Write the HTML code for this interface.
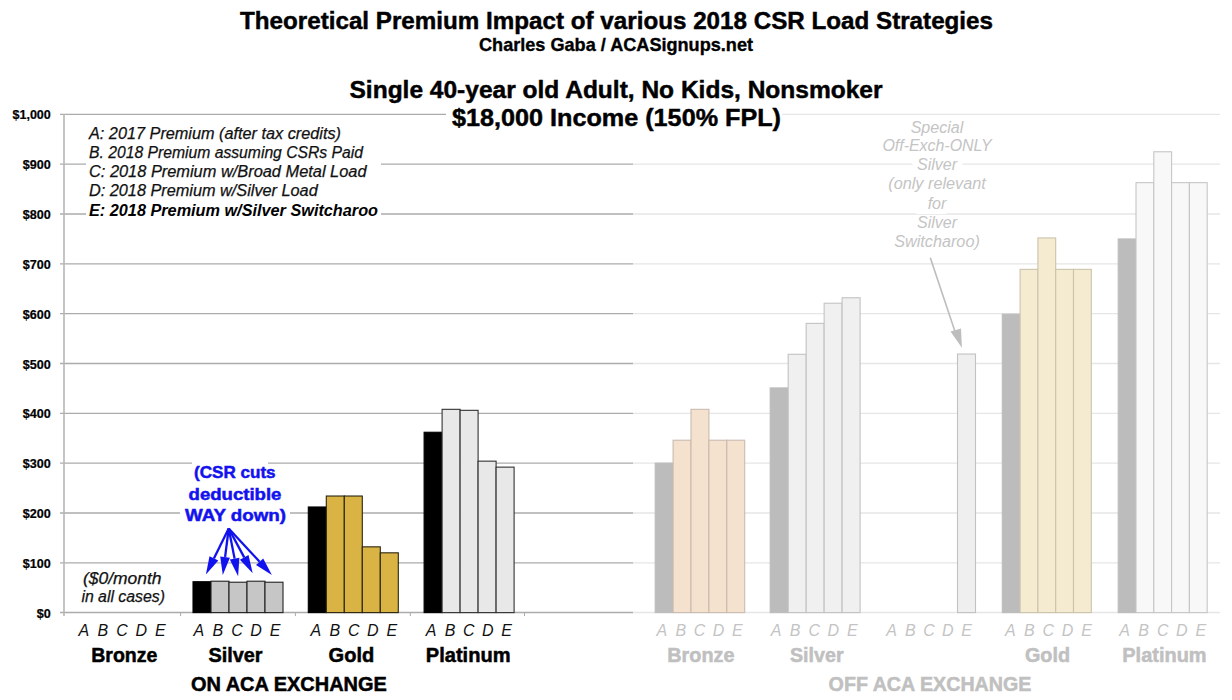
<!DOCTYPE html>
<html><head><meta charset="utf-8"><title>Theoretical Premium Impact of various 2018 CSR Load Strategies</title>
<style>
html,body{margin:0;padding:0;background:#fff;}
svg{display:block;}
text{font-family:"Liberation Sans",sans-serif;}
.yl{font-size:12px;font-weight:bold;text-anchor:end;fill:#000;stroke:#000;stroke-width:0.2;}
.t1{font-size:24px;font-weight:bold;fill:#000;stroke:#000;stroke-width:0.45;}
.t2{font-size:18.2px;font-weight:bold;fill:#000;stroke:#000;stroke-width:0.35;}
.t3{font-size:23.8px;font-weight:bold;fill:#000;stroke:#000;stroke-width:0.45;}
.lg{font-size:16px;font-style:italic;fill:#111;stroke:#111;stroke-width:0.25;}
.lgb{font-size:16px;font-style:italic;font-weight:bold;fill:#000;}
.sp{font-size:16px;font-style:italic;fill:#c4c4c4;}
.bl{font-size:16.5px;font-weight:bold;fill:#1212ee;stroke:#1212ee;stroke-width:0.5;}
.xl{font-size:16px;font-style:italic;}
.cat{font-size:20px;font-weight:bold;stroke-width:0.5;}
</style></head>
<body>
<svg width="1232" height="700" viewBox="0 0 1232 700">
<rect width="1232" height="700" fill="#fff"/>
<line x1="60" y1="562.8" x2="633" y2="562.8" stroke="#ababab" stroke-width="1.3"/>
<line x1="633" y1="562.8" x2="1220" y2="562.8" stroke="#e6e6e6" stroke-width="1.3"/>
<line x1="60" y1="513.0" x2="633" y2="513.0" stroke="#ababab" stroke-width="1.3"/>
<line x1="633" y1="513.0" x2="1220" y2="513.0" stroke="#e6e6e6" stroke-width="1.3"/>
<line x1="60" y1="463.1" x2="633" y2="463.1" stroke="#ababab" stroke-width="1.3"/>
<line x1="633" y1="463.1" x2="1220" y2="463.1" stroke="#e6e6e6" stroke-width="1.3"/>
<line x1="60" y1="413.3" x2="633" y2="413.3" stroke="#ababab" stroke-width="1.3"/>
<line x1="633" y1="413.3" x2="1220" y2="413.3" stroke="#e6e6e6" stroke-width="1.3"/>
<line x1="60" y1="363.5" x2="633" y2="363.5" stroke="#ababab" stroke-width="1.3"/>
<line x1="633" y1="363.5" x2="1220" y2="363.5" stroke="#e6e6e6" stroke-width="1.3"/>
<line x1="60" y1="313.7" x2="633" y2="313.7" stroke="#ababab" stroke-width="1.3"/>
<line x1="633" y1="313.7" x2="1220" y2="313.7" stroke="#e6e6e6" stroke-width="1.3"/>
<line x1="60" y1="263.9" x2="633" y2="263.9" stroke="#ababab" stroke-width="1.3"/>
<line x1="633" y1="263.9" x2="1220" y2="263.9" stroke="#e6e6e6" stroke-width="1.3"/>
<line x1="60" y1="214.0" x2="633" y2="214.0" stroke="#ababab" stroke-width="1.3"/>
<line x1="633" y1="214.0" x2="1220" y2="214.0" stroke="#e6e6e6" stroke-width="1.3"/>
<line x1="60" y1="164.2" x2="633" y2="164.2" stroke="#ababab" stroke-width="1.3"/>
<line x1="633" y1="164.2" x2="1220" y2="164.2" stroke="#e6e6e6" stroke-width="1.3"/>
<line x1="60" y1="114.4" x2="633" y2="114.4" stroke="#ababab" stroke-width="1.3"/>
<line x1="633" y1="114.4" x2="1220" y2="114.4" stroke="#e6e6e6" stroke-width="1.3"/>
<line x1="60" y1="612.6" x2="633" y2="612.6" stroke="#ababab" stroke-width="1.5"/>
<line x1="633" y1="612.6" x2="1220" y2="612.6" stroke="#e6e6e6" stroke-width="1.5"/>
<line x1="64" y1="114" x2="64" y2="616" stroke="#b6b6b6" stroke-width="1.6"/>
<line x1="180.6" y1="612.6" x2="180.6" y2="616.1" stroke="#ababab" stroke-width="1"/>
<line x1="295.4" y1="612.6" x2="295.4" y2="616.1" stroke="#ababab" stroke-width="1"/>
<line x1="410.3" y1="612.6" x2="410.3" y2="616.1" stroke="#ababab" stroke-width="1"/>
<line x1="524.5" y1="612.6" x2="524.5" y2="616.1" stroke="#ababab" stroke-width="1"/>
<text x="50.8" y="617.6" class="yl" textLength="14" lengthAdjust="spacingAndGlyphs">$0</text>
<text x="50.8" y="567.8" class="yl" textLength="28" lengthAdjust="spacingAndGlyphs">$100</text>
<text x="50.8" y="518.0" class="yl" textLength="28" lengthAdjust="spacingAndGlyphs">$200</text>
<text x="50.8" y="468.1" class="yl" textLength="28" lengthAdjust="spacingAndGlyphs">$300</text>
<text x="50.8" y="418.3" class="yl" textLength="28" lengthAdjust="spacingAndGlyphs">$400</text>
<text x="50.8" y="368.5" class="yl" textLength="28" lengthAdjust="spacingAndGlyphs">$500</text>
<text x="50.8" y="318.7" class="yl" textLength="28" lengthAdjust="spacingAndGlyphs">$600</text>
<text x="50.8" y="268.9" class="yl" textLength="28" lengthAdjust="spacingAndGlyphs">$700</text>
<text x="50.8" y="219.0" class="yl" textLength="28" lengthAdjust="spacingAndGlyphs">$800</text>
<text x="50.8" y="169.2" class="yl" textLength="28" lengthAdjust="spacingAndGlyphs">$900</text>
<text x="50.8" y="119.4" class="yl" textLength="38.3" lengthAdjust="spacingAndGlyphs">$1,000</text>
<rect x="446" y="104" width="336" height="24" fill="#fff"/>
<rect x="86" y="124" width="295" height="97" fill="#fff"/>
<rect x="192" y="458" width="76" height="22" fill="#fff"/>
<rect x="180" y="481" width="110" height="45" fill="#fff"/>
<rect x="912.5" y="158" width="50" height="16" fill="#fff"/>
<rect x="916.5" y="198" width="30" height="16" fill="#fff"/>
<rect x="80" y="568" width="88" height="38" fill="#fff"/>
<rect x="193.00" y="581.71" width="18.00" height="30.89" fill="#000" stroke="#000" stroke-width="1.1"/>
<rect x="211.00" y="581.21" width="18.00" height="31.39" fill="#c6c6c6" stroke="#222" stroke-width="1.1"/>
<rect x="229.00" y="582.21" width="18.00" height="30.39" fill="#c6c6c6" stroke="#222" stroke-width="1.1"/>
<rect x="247.00" y="581.21" width="18.00" height="31.39" fill="#c6c6c6" stroke="#222" stroke-width="1.1"/>
<rect x="265.00" y="582.21" width="18.00" height="30.39" fill="#c6c6c6" stroke="#222" stroke-width="1.1"/>
<rect x="308.30" y="506.98" width="18.00" height="105.62" fill="#000" stroke="#000" stroke-width="1.1"/>
<rect x="326.30" y="496.02" width="18.00" height="116.58" fill="#d9b445" stroke="#2a2410" stroke-width="1.1"/>
<rect x="344.30" y="496.02" width="18.00" height="116.58" fill="#d9b445" stroke="#2a2410" stroke-width="1.1"/>
<rect x="362.30" y="546.84" width="18.00" height="65.76" fill="#d9b445" stroke="#2a2410" stroke-width="1.1"/>
<rect x="380.30" y="552.82" width="18.00" height="59.78" fill="#d9b445" stroke="#2a2410" stroke-width="1.1"/>
<rect x="424.10" y="432.25" width="18.00" height="180.35" fill="#000" stroke="#000" stroke-width="1.1"/>
<rect x="442.10" y="409.33" width="18.00" height="203.27" fill="#e8e8e8" stroke="#333" stroke-width="1.1"/>
<rect x="460.10" y="410.33" width="18.00" height="202.27" fill="#e8e8e8" stroke="#333" stroke-width="1.1"/>
<rect x="478.10" y="461.15" width="18.00" height="151.45" fill="#e8e8e8" stroke="#333" stroke-width="1.1"/>
<rect x="496.10" y="467.13" width="18.00" height="145.47" fill="#e8e8e8" stroke="#333" stroke-width="1.1"/>
<rect x="655.20" y="463.14" width="17.90" height="149.46" fill="#bcbcbc" stroke="#bcbcbc" stroke-width="1.1"/>
<rect x="673.10" y="440.22" width="17.90" height="172.38" fill="#f5e2ce" stroke="#c9bbb0" stroke-width="1.1"/>
<rect x="691.00" y="409.33" width="17.90" height="203.27" fill="#f5e2ce" stroke="#c9bbb0" stroke-width="1.1"/>
<rect x="708.90" y="440.22" width="17.90" height="172.38" fill="#f5e2ce" stroke="#c9bbb0" stroke-width="1.1"/>
<rect x="726.80" y="440.22" width="17.90" height="172.38" fill="#f5e2ce" stroke="#c9bbb0" stroke-width="1.1"/>
<rect x="770.20" y="387.91" width="17.98" height="224.69" fill="#bcbcbc" stroke="#bcbcbc" stroke-width="1.1"/>
<rect x="788.18" y="354.28" width="17.98" height="258.32" fill="#f0f0f0" stroke="#c2c2c2" stroke-width="1.1"/>
<rect x="806.16" y="323.39" width="17.98" height="289.21" fill="#f0f0f0" stroke="#c2c2c2" stroke-width="1.1"/>
<rect x="824.14" y="303.22" width="17.98" height="309.38" fill="#f0f0f0" stroke="#c2c2c2" stroke-width="1.1"/>
<rect x="842.12" y="297.74" width="17.98" height="314.86" fill="#f0f0f0" stroke="#c2c2c2" stroke-width="1.1"/>
<rect x="957.50" y="354.03" width="18.00" height="258.57" fill="#efefef" stroke="#c2c2c2" stroke-width="1.1"/>
<rect x="1002.30" y="314.18" width="17.80" height="298.42" fill="#bcbcbc" stroke="#bcbcbc" stroke-width="1.1"/>
<rect x="1020.10" y="269.34" width="17.80" height="343.26" fill="#f4ebd0" stroke="#cbc4ab" stroke-width="1.1"/>
<rect x="1037.90" y="237.95" width="17.80" height="374.65" fill="#f4ebd0" stroke="#cbc4ab" stroke-width="1.1"/>
<rect x="1055.70" y="269.34" width="17.80" height="343.26" fill="#f4ebd0" stroke="#cbc4ab" stroke-width="1.1"/>
<rect x="1073.50" y="269.34" width="17.80" height="343.26" fill="#f4ebd0" stroke="#cbc4ab" stroke-width="1.1"/>
<rect x="1118.20" y="238.95" width="17.80" height="373.65" fill="#bcbcbc" stroke="#bcbcbc" stroke-width="1.1"/>
<rect x="1136.00" y="182.65" width="17.80" height="429.95" fill="#f8f8f8" stroke="#c6c6c6" stroke-width="1.1"/>
<rect x="1153.80" y="151.77" width="17.80" height="460.83" fill="#f8f8f8" stroke="#c6c6c6" stroke-width="1.1"/>
<rect x="1171.60" y="182.65" width="17.80" height="429.95" fill="#f8f8f8" stroke="#c6c6c6" stroke-width="1.1"/>
<rect x="1189.40" y="182.65" width="17.80" height="429.95" fill="#f8f8f8" stroke="#c6c6c6" stroke-width="1.1"/>
<text x="616.5" y="29.2" class="t1" text-anchor="middle" textLength="753" lengthAdjust="spacingAndGlyphs">Theoretical Premium Impact of various 2018 CSR Load Strategies</text>
<text x="616" y="51.3" class="t2" text-anchor="middle" textLength="274" lengthAdjust="spacingAndGlyphs">Charles Gaba / ACASignups.net</text>
<text x="616" y="98.4" class="t3" text-anchor="middle" textLength="533" lengthAdjust="spacingAndGlyphs">Single 40-year old Adult, No Kids, Nonsmoker</text>
<text x="616.5" y="125.6" class="t3" text-anchor="middle" textLength="329" lengthAdjust="spacingAndGlyphs">$18,000 Income (150% FPL)</text>
<text x="89" y="139.2" class="lg" text-anchor="start" textLength="252" lengthAdjust="spacingAndGlyphs">A: 2017 Premium (after tax credits)</text>
<text x="89" y="157.9" class="lg" text-anchor="start" textLength="274" lengthAdjust="spacingAndGlyphs">B. 2018 Premium assuming CSRs Paid</text>
<text x="89" y="176.8" class="lg" text-anchor="start" textLength="277.5" lengthAdjust="spacingAndGlyphs">C: 2018 Premium w/Broad Metal Load</text>
<text x="89" y="196.0" class="lg" text-anchor="start" textLength="228.7" lengthAdjust="spacingAndGlyphs">D: 2018 Premium w/Silver Load</text>
<text x="89" y="215.5" class="lgb" text-anchor="start" textLength="289" lengthAdjust="spacingAndGlyphs">E: 2018 Premium w/Silver Switcharoo</text>
<text x="937" y="132.5" class="sp" text-anchor="middle" textLength="52.7" lengthAdjust="spacingAndGlyphs">Special</text>
<text x="937" y="151.3" class="sp" text-anchor="middle" textLength="109.2" lengthAdjust="spacingAndGlyphs">Off-Exch-ONLY</text>
<text x="937" y="170" class="sp" text-anchor="middle">Silver</text>
<text x="937" y="189.2" class="sp" text-anchor="middle" textLength="97.5" lengthAdjust="spacingAndGlyphs">(only relevant</text>
<text x="937" y="209.1" class="sp" text-anchor="middle">for</text>
<text x="937" y="228.4" class="sp" text-anchor="middle">Silver</text>
<text x="937" y="247" class="sp" text-anchor="middle" textLength="85.7" lengthAdjust="spacingAndGlyphs">Switcharoo)</text>
<line x1="930.3" y1="257.7" x2="955.5" y2="333" stroke="#bdbdbd" stroke-width="1.6"/>
<path d="M961.9 347.8 L950.5 331.5 L961 328.5 Z" fill="#bdbdbd"/>
<text x="234.8" y="477.8" class="bl" text-anchor="middle" textLength="81.5" lengthAdjust="spacingAndGlyphs">(CSR cuts</text>
<text x="235" y="499.6" class="bl" text-anchor="middle" textLength="92.8" lengthAdjust="spacingAndGlyphs">deductible</text>
<text x="235.5" y="521" class="bl" text-anchor="middle" textLength="101" lengthAdjust="spacingAndGlyphs">WAY down)</text>
<line x1="228.7" y1="528.5" x2="213.9" y2="558.4" stroke="#1212ee" stroke-width="2.3"/>
<path d="M205.9 574.5 L209.5 556.2 L218.3 560.5 Z" fill="#1212ee"/>
<line x1="228.7" y1="528.5" x2="225.1" y2="557.0" stroke="#1212ee" stroke-width="2.3"/>
<path d="M222.8 574.9 L220.2 556.4 L229.9 557.7 Z" fill="#1212ee"/>
<line x1="228.7" y1="528.5" x2="234.6" y2="558.6" stroke="#1212ee" stroke-width="2.3"/>
<path d="M238.1 576.3 L229.8 559.6 L239.4 557.7 Z" fill="#1212ee"/>
<line x1="228.7" y1="528.5" x2="244.2" y2="557.4" stroke="#1212ee" stroke-width="2.3"/>
<path d="M252.7 573.3 L239.9 559.7 L248.5 555.1 Z" fill="#1212ee"/>
<line x1="228.7" y1="528.5" x2="259.6" y2="561.7" stroke="#1212ee" stroke-width="2.3"/>
<path d="M271.9 574.9 L256.0 565.1 L263.2 558.4 Z" fill="#1212ee"/>
<text x="122.2" y="584" class="lg" text-anchor="middle" textLength="78.5" lengthAdjust="spacingAndGlyphs">($0/month</text>
<text x="123.2" y="602.3" class="lg" text-anchor="middle" textLength="83.6" lengthAdjust="spacingAndGlyphs">in all cases)</text>
<text x="83.8" y="635.5" class="xl" text-anchor="middle" fill="#111">A</text>
<text x="102.9" y="635.5" class="xl" text-anchor="middle" fill="#111">B</text>
<text x="122.0" y="635.5" class="xl" text-anchor="middle" fill="#111">C</text>
<text x="141.2" y="635.5" class="xl" text-anchor="middle" fill="#111">D</text>
<text x="160.3" y="635.5" class="xl" text-anchor="middle" fill="#111">E</text>
<text x="198.8" y="635.5" class="xl" text-anchor="middle" fill="#111">A</text>
<text x="217.9" y="635.5" class="xl" text-anchor="middle" fill="#111">B</text>
<text x="237.0" y="635.5" class="xl" text-anchor="middle" fill="#111">C</text>
<text x="256.0" y="635.5" class="xl" text-anchor="middle" fill="#111">D</text>
<text x="275.1" y="635.5" class="xl" text-anchor="middle" fill="#111">E</text>
<text x="315.8" y="635.5" class="xl" text-anchor="middle" fill="#111">A</text>
<text x="334.8" y="635.5" class="xl" text-anchor="middle" fill="#111">B</text>
<text x="353.9" y="635.5" class="xl" text-anchor="middle" fill="#111">C</text>
<text x="372.9" y="635.5" class="xl" text-anchor="middle" fill="#111">D</text>
<text x="391.9" y="635.5" class="xl" text-anchor="middle" fill="#111">E</text>
<text x="431.1" y="635.5" class="xl" text-anchor="middle" fill="#111">A</text>
<text x="450.0" y="635.5" class="xl" text-anchor="middle" fill="#111">B</text>
<text x="468.9" y="635.5" class="xl" text-anchor="middle" fill="#111">C</text>
<text x="487.7" y="635.5" class="xl" text-anchor="middle" fill="#111">D</text>
<text x="506.6" y="635.5" class="xl" text-anchor="middle" fill="#111">E</text>
<text x="661.9" y="635.5" class="xl" text-anchor="middle" fill="#c4c4c4">A</text>
<text x="680.8" y="635.5" class="xl" text-anchor="middle" fill="#c4c4c4">B</text>
<text x="699.6" y="635.5" class="xl" text-anchor="middle" fill="#c4c4c4">C</text>
<text x="718.5" y="635.5" class="xl" text-anchor="middle" fill="#c4c4c4">D</text>
<text x="737.4" y="635.5" class="xl" text-anchor="middle" fill="#c4c4c4">E</text>
<text x="776.2" y="635.5" class="xl" text-anchor="middle" fill="#c4c4c4">A</text>
<text x="795.2" y="635.5" class="xl" text-anchor="middle" fill="#c4c4c4">B</text>
<text x="814.2" y="635.5" class="xl" text-anchor="middle" fill="#c4c4c4">C</text>
<text x="833.3" y="635.5" class="xl" text-anchor="middle" fill="#c4c4c4">D</text>
<text x="852.3" y="635.5" class="xl" text-anchor="middle" fill="#c4c4c4">E</text>
<text x="891.6" y="635.5" class="xl" text-anchor="middle" fill="#c4c4c4">A</text>
<text x="910.3" y="635.5" class="xl" text-anchor="middle" fill="#c4c4c4">B</text>
<text x="929.0" y="635.5" class="xl" text-anchor="middle" fill="#c4c4c4">C</text>
<text x="947.8" y="635.5" class="xl" text-anchor="middle" fill="#c4c4c4">D</text>
<text x="966.5" y="635.5" class="xl" text-anchor="middle" fill="#c4c4c4">E</text>
<text x="1010.3" y="635.5" class="xl" text-anchor="middle" fill="#c4c4c4">A</text>
<text x="1029.3" y="635.5" class="xl" text-anchor="middle" fill="#c4c4c4">B</text>
<text x="1048.4" y="635.5" class="xl" text-anchor="middle" fill="#c4c4c4">C</text>
<text x="1067.5" y="635.5" class="xl" text-anchor="middle" fill="#c4c4c4">D</text>
<text x="1086.5" y="635.5" class="xl" text-anchor="middle" fill="#c4c4c4">E</text>
<text x="1124.7" y="635.5" class="xl" text-anchor="middle" fill="#c4c4c4">A</text>
<text x="1143.7" y="635.5" class="xl" text-anchor="middle" fill="#c4c4c4">B</text>
<text x="1162.8" y="635.5" class="xl" text-anchor="middle" fill="#c4c4c4">C</text>
<text x="1181.8" y="635.5" class="xl" text-anchor="middle" fill="#c4c4c4">D</text>
<text x="1200.8" y="635.5" class="xl" text-anchor="middle" fill="#c4c4c4">E</text>
<text x="91.2" y="661.8" class="cat" text-anchor="start" textLength="66.2" lengthAdjust="spacingAndGlyphs" fill="#000" stroke="#000">Bronze</text>
<text x="208.5" y="661.8" class="cat" text-anchor="start" textLength="54.1" lengthAdjust="spacingAndGlyphs" fill="#000" stroke="#000">Silver</text>
<text x="328.6" y="661.8" class="cat" text-anchor="start" textLength="45.6" lengthAdjust="spacingAndGlyphs" fill="#000" stroke="#000">Gold</text>
<text x="425.8" y="661.8" class="cat" text-anchor="start" textLength="84.7" lengthAdjust="spacingAndGlyphs" fill="#000" stroke="#000">Platinum</text>
<text x="667.3" y="661.8" class="cat" text-anchor="start" textLength="67.2" lengthAdjust="spacingAndGlyphs" fill="#c0c0c0" stroke="#c0c0c0">Bronze</text>
<text x="790" y="661.8" class="cat" text-anchor="start" textLength="53.6" lengthAdjust="spacingAndGlyphs" fill="#c0c0c0" stroke="#c0c0c0">Silver</text>
<text x="1024.9" y="661.8" class="cat" text-anchor="start" textLength="45.1" lengthAdjust="spacingAndGlyphs" fill="#c0c0c0" stroke="#c0c0c0">Gold</text>
<text x="1122.3" y="661.8" class="cat" text-anchor="start" textLength="84.3" lengthAdjust="spacingAndGlyphs" fill="#c0c0c0" stroke="#c0c0c0">Platinum</text>
<text x="190.9" y="691.4" class="cat" text-anchor="start" textLength="196" lengthAdjust="spacingAndGlyphs" fill="#000" stroke="#000">ON ACA EXCHANGE</text>
<text x="828.6" y="691.4" class="cat" text-anchor="start" textLength="202.8" lengthAdjust="spacingAndGlyphs" fill="#c0c0c0" stroke="#c0c0c0">OFF ACA EXCHANGE</text>
</svg>
</body></html>
